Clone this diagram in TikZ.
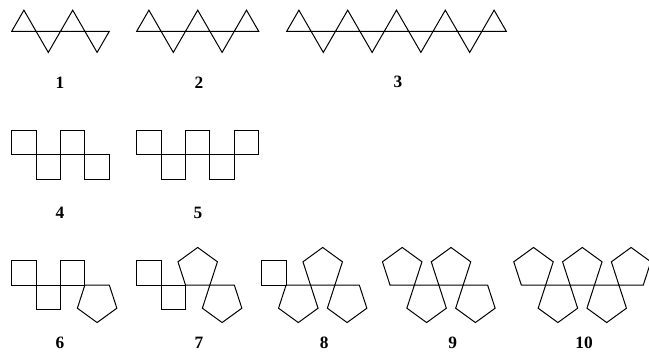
\documentclass[tikz,border=0pt]{standalone}
\usepackage{fontspec}
\setmainfont{Liberation Serif}

\newcommand{\side}{24.4}
% strip of regular polygons, first one up, then alternating
% #1 = left x, #2 = baseline y, #3 = list of numbers of sides
\newcommand{\netstrip}[3]{%
  \foreach \n [count=\k from 0] in {#3} {
    \pgfmathtruncatemacro{\sgn}{ifthenelse(mod(\k,2)==0,-1,1)}
    \draw ({#1+\k*\side},#2) -- ++(0:\side)
      \foreach \j in {2,...,\n} { -- ++({\sgn*(\j-1)*360/\n}:\side) } -- cycle;
  }%
}

\begin{document}
\begin{tikzpicture}[x=0.75pt,y=-0.75pt,line width=0.75pt,line join=miter,
  lbl/.style={font=\fontsize{13}{13}\selectfont\bfseries,inner sep=0pt}]
\useasboundingbox (0,0) rectangle (649,351);
% triangles
\netstrip{11.7}{31.3}{3,3,3,3}
\netstrip{136.7}{31.3}{3,3,3,3,3}
\netstrip{286.7}{31.3}{3,3,3,3,3,3,3,3,3}
\node[lbl] (l1) at (60,82.3) {1};
\node[lbl] (l2) at (199,82.3) {2};
\node[lbl] (l3) at (398,82.3) {3};
% squares
\netstrip{11.7}{154.6}{4,4,4,4}
\netstrip{136.7}{154.6}{4,4,4,4,4}
\node[lbl] (l4) at (60,212.7) {4};
\node[lbl] (l5) at (198,212.7) {5};
% squares and pentagons
\netstrip{11.7}{285}{4,4,4,5}
\netstrip{136.7}{285}{4,4,5,5}
\netstrip{261.7}{285}{4,5,5,5}
\netstrip{390}{285}{5,5,5,5}
\netstrip{521.3}{285}{5,5,5,5,5}
\node[lbl] (l6) at (60,343.3) {6};
\node[lbl] (l7) at (199,343.3) {7};
\node[lbl] (l8) at (324.3,343.3) {8};
\node[lbl] (l9) at (452.7,343.3) {9};
\node[lbl] (l10) at (584,343.3) {10};
\end{tikzpicture}
\end{document}
